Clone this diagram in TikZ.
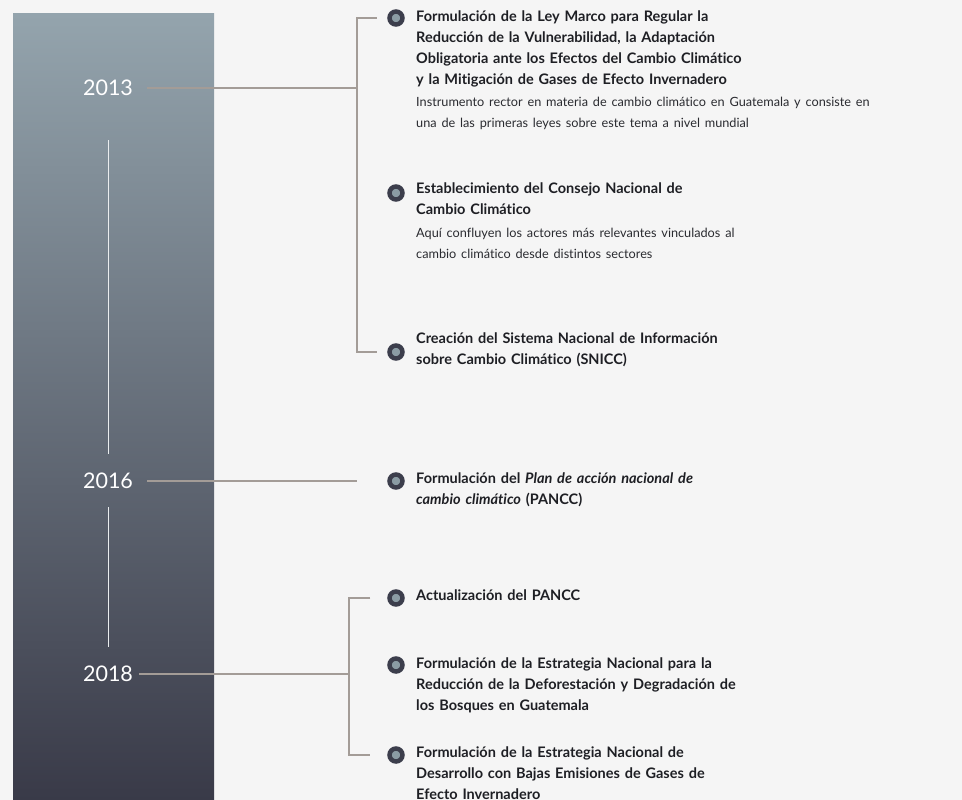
\documentclass[tikz,border=0pt]{standalone}
\usepackage{fontspec}
\setmainfont[Ligatures=NoCommon]{Lato}
\definecolor{bgpage}{HTML}{F5F5F5}
\definecolor{bartop}{HTML}{94A4AD}
\definecolor{barbottom}{HTML}{393A48}
\definecolor{linegray}{HTML}{A39C97}
\definecolor{dotdark}{HTML}{3C3E4C}
\definecolor{dotlight}{HTML}{8B9CA4}
\definecolor{inkdark}{HTML}{1E1F24}
\definecolor{inkgray}{HTML}{2A2B30}
\newcommand{\notefont}{\mdseries\fontsize{12.7}{18}\selectfont\color{inkgray}}
\begin{document}
\begin{tikzpicture}[x=1pt,y=-1pt,
		link/.style={draw=linegray,line width=2.2pt},
		barline/.style={draw=white!80!bartop,line width=1pt},
		dot/.style={circle,draw=dotdark,fill=dotlight,line width=4.5pt,minimum size=13pt,inner sep=0pt},
		year/.style={text=white,font=\fontsize{21.5}{25}\selectfont,inner xsep=14pt},
		entry/.style={anchor=north west,inner sep=0pt,text width=540pt,align=left,text=inkdark,font=\bfseries\fontsize{14.5}{21}\selectfont}]
		
		\useasboundingbox (0,0) rectangle (962,800);
		\fill[bgpage] (0,0) rectangle (962,800);
		\shade[top color=bartop,bottom color=barbottom] (13,14) rectangle (214,800);
		
		% years
		\node[year] (y13) at (108,88) {2013};
		\node[year] (y16) at (108,481) {2016};
		\node[year] (y18) at (108,674) {2018};
		\draw[barline] ([yshift=-52pt]y13.center) -- ([yshift=27pt]y16.center);
		\draw[barline] ([yshift=-26pt]y16.center) -- ([yshift=27pt]y18.center);
		
		% bullets
		\node[dot] (b1) at (396,18) {};
		\node[dot] (b2) at (396,193) {};
		\node[dot] (b3) at (396,352) {};
		\node[dot] (b4) at (396,481) {};
		\node[dot] (b5) at (396,598) {};
		\node[dot] (b6) at (396,665) {};
		\node[dot] (b7) at (396,755) {};
		
		% entries
		\node[entry] (t1) at (416,7) {\strut Formulación de la Ley Marco para Regular la\\
			Reducción de la Vulnerabilidad, la Adaptación\\
			Obligatoria ante los Efectos del Cambio Climático\\
			y la Mitigación de Gases de Efecto Invernadero\par\vspace{4pt}
			\notefont Instrumento rector en materia de cambio climático en Guatemala y consiste en\\
			una de las primeras leyes sobre este tema a nivel mundial};
		\node[entry] (t2) at (416,179) {\strut Establecimiento del Consejo Nacional de\\
			Cambio Climático\par\vspace{5pt}
			\notefont Aquí confluyen los actores más relevantes vinculados al\\
			cambio climático desde distintos sectores};
		\node[entry] (t3) at (416,329) {\strut Creación del Sistema Nacional de Información\\
			sobre Cambio Climático (SNICC)};
		\node[entry] (t4) at (416,469) {\strut Formulación del {\itshape Plan de acción nacional de}\\
			{\itshape cambio climático} (PANCC)};
		\node[entry] (t5) at (416,586) {\strut Actualización del PANCC};
		\node[entry] (t6) at (416,654) {\strut Formulación de la Estrategia Nacional para la\\
			Reducción de la Deforestación y Degradación de\\
			los Bosques en Guatemala};
		\node[entry] (t7) at (416,743) {\strut Formulación de la Estrategia Nacional de\\
			Desarrollo con Bajas Emisiones de Gases de\\
			Efecto Invernadero};
		
		% connectors
		\coordinate (j13) at (357,88);
		\coordinate (j16) at (357,481);
		\coordinate (j18) at (349,674);
		\draw[link] (y13) -- (j13);
		\draw[link] ([xshift=-10.5pt]b1.west) -| (j13) |- ([xshift=-10.5pt]b3.west);
		\draw[link] (y16) -- (j16);
		\draw[link,shorten <=-8pt] (y18) -- (j18);
		\draw[link] ([xshift=-17pt]b5.west) -| (j18) |- ([xshift=-17pt]b7.west);
\end{tikzpicture}
\end{document}
